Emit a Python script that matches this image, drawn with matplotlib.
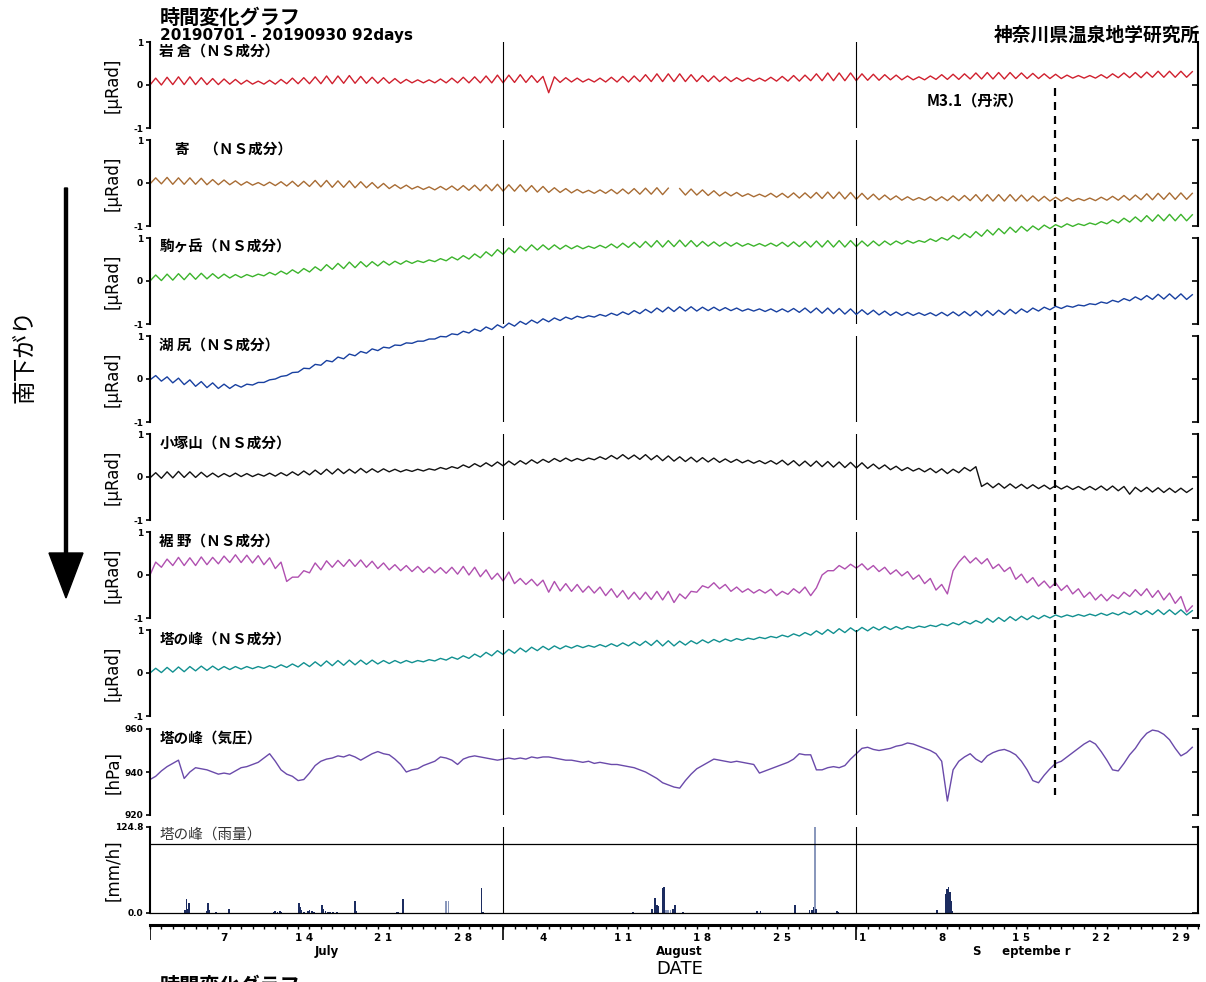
import matplotlib

matplotlib.use("Agg")

import matplotlib.pyplot as plt
import numpy as np
from matplotlib import transforms
from matplotlib.lines import Line2D
from matplotlib.patches import FancyArrow

plt.rcParams["font.family"] = ["Noto Sans CJK JP", "DejaVu Sans"]

# ---- data ------------------------------------------------------------------
# day 0 = 2019-07-01; tilt series hold two samples a day (trough, crest)
# in hundredths of a microradian
iwakura = [
    0, 16, 0, 18, 1, 19, 1, 19, 1, 17, 1, 15, 1, 14, 2, 13, 2, 11, 2, 9,
    2, 11, 2, 13, 3, 16, 3, 17, 3, 19, 3, 21, 3, 21, 4, 22, 4, 20, 4, 18,
    4, 17, 4, 15, 4, 13, 5, 12, 5, 12, 5, 14, 5, 16, 5, 18, 5, 19, 5, 21,
    5, 23, 5, 23, 6, 24, 6, 22, 6, 20, -18, 19, 6, 17, 7, 16, 7, 14, 7, 16,
    7, 18, 7, 20, 7, 21, 8, 24, 8, 26, 8, 26, 8, 26, 8, 24, 8, 22, 8, 21,
    8, 19, 8, 17, 9, 16, 9, 16, 9, 18, 9, 20, 9, 22, 9, 23, 10, 26, 10, 28,
    10, 28, 10, 28, 10, 26, 11, 25, 11, 24, 12, 23, 12, 21, 12, 19, 12, 21, 13, 24,
    13, 25, 13, 26, 14, 28, 14, 29, 14, 29, 14, 29, 15, 28, 15, 27, 15, 26, 15, 25,
    15, 23, 16, 22, 16, 22, 16, 24, 16, 26, 17, 28, 17, 29, 17, 30, 18, 32, 18, 32,
    18, 32, 18, 31,
]
yoriki = [
    -2, 12, -2, 13, -3, 12, -3, 12, -3, 11, -4, 8, -4, 7, -4, 5, -5, 3, -5, 1,
    -6, 2, -6, 3, -7, 4, -8, 4, -8, 6, -9, 6, -10, 5, -10, 5, -11, 3, -11, 1,
    -12, -1, -13, -4, -13, -5, -14, -8, -15, -9, -16, -8, -16, -7, -17, -6, -17, -5, -18, -4,
    -18, -3, -19, -4, -19, -4, -20, -6, -21, -8, -22, -11, -22, -13, -23, -15, -23, -17, -24, -16,
    -24, -15, -25, -14, -25, -13, -26, -12, -26, -11, -27, -12, np.nan, -13, -28, -14, -28, -16, -29, -18,
    -30, -21, -30, -22, -31, -25, -32, -26, -32, -24, -33, -24, -34, -23, -35, -23, -35, -22, -36, -21,
    -36, -21, -37, -22, -38, -24, -38, -26, -39, -28, -39, -30, -40, -32, -40, -34, -40, -32, -41, -32,
    -41, -30, -41, -29, -41, -27, -42, -27, -42, -27, -42, -27, -42, -28, -42, -30, -42, -31, -42, -33,
    -42, -34, -42, -36, -41, -35, -41, -33, -40, -31, -40, -29, -40, -28, -39, -25, -39, -24, -38, -23,
    -38, -23, -38, -24,
]
komagatake = [
    0, 14, 1, 16, 2, 17, 3, 18, 4, 18, 5, 17, 6, 16, 7, 15, 8, 15, 10, 16,
    12, 20, 14, 23, 16, 26, 18, 29, 21, 33, 24, 38, 27, 41, 29, 44, 31, 45, 33, 45,
    35, 46, 37, 46, 39, 47, 41, 47, 43, 49, 45, 52, 47, 56, 49, 59, 51, 63, 54, 68,
    58, 73, 62, 77, 66, 81, 70, 84, 72, 84, 73, 84, 74, 83, 75, 82, 75, 81, 76, 83,
    77, 86, 77, 88, 78, 90, 78, 92, 79, 94, 79, 94, 80, 95, 80, 94, 80, 92, 81, 91,
    81, 90, 81, 89, 81, 87, 81, 87, 81, 88, 81, 90, 80, 91, 80, 92, 79, 93, 79, 94,
    79, 94, 79, 94, 80, 93, 81, 93, 82, 93, 84, 93, 86, 94, 88, 94, 90, 98, 92, 101,
    95, 106, 98, 110, 101, 115, 104, 119, 107, 122, 110, 125, 113, 127, 116, 128, 119, 130, 122, 131,
    125, 133, 127, 133, 129, 135, 131, 138, 133, 142, 135, 146, 137, 149, 138, 152, 139, 154, 140, 155,
    140, 155, 140, 154,
]
kojiri = [
    -2, 8, -5, 5, -9, 2, -13, -2, -17, -6, -20, -9, -22, -12, -22, -13, -19, -12, -14, -8,
    -8, -2, 0, 6, 8, 15, 16, 25, 24, 34, 32, 43, 40, 51, 47, 58, 54, 64, 60, 70,
    66, 74, 72, 79, 78, 84, 83, 88, 88, 93, 93, 99, 98, 105, 103, 111, 107, 116, 111, 121,
    115, 126, 119, 130, 123, 134, 127, 137, 130, 140, 133, 142, 136, 144, 139, 146, 142, 147, 144, 150,
    146, 153, 148, 156, 150, 159, 152, 162, 154, 165, 156, 167, 157, 168, 158, 168, 158, 167, 159, 167,
    159, 166, 159, 165, 158, 163, 158, 163, 157, 163, 156, 163, 156, 164, 155, 165, 154, 165, 153, 165,
    152, 164, 151, 163, 150, 161, 150, 160, 149, 158, 148, 156, 148, 155, 148, 154, 148, 154, 147, 155,
    147, 156, 147, 157, 147, 158, 147, 159, 148, 160, 150, 162, 152, 163, 155, 165, 158, 167, 161, 169,
    164, 170, 167, 172, 170, 175, 173, 179, 176, 183, 179, 187, 182, 191, 184, 194, 185, 197, 186, 198,
    186, 198, 185, 196,
]
kozukayama = [
    -2, 10, -3, 12, -2, 13, -1, 12, -1, 11, 0, 9, 0, 8, 1, 9, 1, 8, 1, 7,
    2, 9, 2, 10, 3, 12, 4, 14, 5, 16, 6, 18, 7, 19, 8, 18, 9, 20, 10, 19,
    11, 19, 12, 18, 12, 17, 13, 18, 14, 19, 16, 22, 18, 24, 20, 28, 22, 31, 24, 33,
    25, 35, 26, 37, 28, 38, 30, 40, 32, 41, 34, 43, 36, 44, 37, 43, 38, 44, 40, 47,
    41, 50, 42, 52, 42, 51, 41, 52, 40, 50, 38, 49, 37, 47, 36, 46, 35, 45, 35, 44,
    34, 42, 34, 41, 33, 39, 32, 38, 31, 38, 30, 39, 28, 38, 26, 37, 25, 37, 24, 36,
    23, 35, 22, 34, 21, 33, 20, 30, 19, 28, 17, 25, 15, 22, 14, 20, 12, 20, 10, 19,
    8, 18, 10, 22, 14, 24, -22, -14, -25, -15, -26, -16, -26, -17, -27, -18, -27, -19, -28, -20,
    -28, -21, -29, -22, -30, -22, -30, -21, -31, -21, -32, -22, -40, -24, -34, -24, -35, -25, -36, -26,
    -36, -26, -36, -27,
]
susono = [
    0, 30, 18, 37, 22, 41, 22, 40, 22, 42, 24, 41, 26, 44, 29, 47, 29, 46, 28, 45,
    24, 40, 15, 30, -15, -5, -5, 10, 5, 28, 12, 33, 18, 34, 20, 36, 20, 35, 18, 32,
    15, 28, 12, 24, 10, 22, 8, 20, 6, 18, 5, 17, 4, 18, 2, 20, 0, 18, -4, 12,
    -10, 4, -14, 7, -20, -8, -22, -10, -25, -12, -40, -15, -37, -20, -38, -22, -40, -26, -42, -28,
    -48, -32, -52, -36, -56, -40, -57, -40, -57, -38, -58, -38, -64, -44, -55, -38, -40, -25, -30, -18,
    -32, -22, -38, -28, -40, -32, -42, -34, -42, -33, -48, -38, -45, -32, -42, -28, -48, -30, 0, 10,
    10, 22, 14, 25, 16, 26, 12, 22, 8, 18, 2, 12, -2, 8, -10, 0, -20, -8, -35, -22,
    -44, 10, 30, 44, 28, 40, 26, 38, 15, 25, 8, 18, -10, 2, -18, -6, -26, -14, -30, -18,
    -36, -24, -44, -32, -52, -40, -58, -45, -60, -46, -55, -40, -50, -34, -48, -32, -52, -36, -58, -42,
    -66, -50, -86, -72,
]
tonomine = [
    0, 11, 1, 13, 2, 14, 3, 15, 5, 16, 6, 16, 7, 15, 8, 15, 9, 15, 10, 15,
    11, 17, 12, 19, 13, 21, 14, 24, 15, 26, 16, 28, 17, 29, 18, 30, 19, 30, 20, 30,
    21, 29, 22, 29, 23, 29, 24, 29, 26, 31, 28, 34, 30, 37, 32, 40, 34, 44, 37, 48,
    40, 52, 43, 55, 46, 58, 49, 60, 52, 62, 54, 63, 56, 63, 58, 64, 59, 64, 60, 66,
    61, 68, 62, 70, 63, 72, 64, 74, 64, 76, 63, 75, 63, 74, 65, 75, 68, 77, 70, 78,
    72, 79, 74, 80, 76, 81, 78, 83, 80, 85, 82, 88, 84, 91, 86, 94, 88, 98, 90, 101,
    92, 103, 94, 105, 96, 106, 98, 107, 100, 108, 101, 108, 102, 108, 104, 109, 106, 111, 108, 114,
    110, 117, 112, 120, 114, 122, 116, 127, 118, 129, 120, 131, 122, 132, 124, 133, 126, 134, 128, 135,
    130, 135, 131, 136, 132, 137, 133, 139, 134, 140, 135, 142, 136, 144, 136, 145, 136, 147, 136, 147,
    136, 147, 135, 145,
]
# 塔の峰 pressure, hPa, two samples a day
pressure = [
    936.5, 938, 940.5, 942.5, 944, 945.5, 937, 940, 942, 941.5,
    941, 940, 939, 939.5, 939, 940.5, 942, 942.5, 943.5, 944.5,
    946.5, 948.5, 945, 941, 939, 938, 936, 936.5, 939.5, 943,
    945, 946, 946.5, 947.5, 947, 948, 947, 945.5, 947, 948.5,
    949.5, 948.5, 948, 946, 943.5, 940, 941, 941.5, 943, 944,
    945, 947, 946.5, 945.5, 943.5, 946, 947, 947.5, 947, 946.5,
    946, 945.5, 946, 946.5, 946, 946.5, 946, 947, 946.5, 947,
    947, 946.5, 946, 945.5, 945.5, 945, 944.5, 945, 944, 944.5,
    944, 943.5, 943.5, 943, 942.5, 942, 941, 940, 938.5, 937,
    935, 934, 933, 932.5, 936, 939, 941.5, 943, 944.5, 946,
    945.5, 945, 944.5, 945, 944.5, 944, 943.5, 939.5, 940.5, 941.5,
    942.5, 943.5, 944.5, 946, 948.5, 948, 948, 941, 941, 942,
    942.5, 942, 943, 946, 948.5, 951, 951.5, 950.5, 950, 950.5,
    951, 952, 952.5, 953.5, 953, 952, 951, 950, 948.5, 945,
    926.5, 941, 945, 947, 948.5, 946, 944.5, 947.5, 949, 950,
    950.5, 949.5, 948, 945, 941, 936, 935, 938.5, 941.5, 944,
    945, 947, 949, 951, 953, 954.5, 953, 949.5, 945.5, 941,
    940.5, 944, 948, 951, 955, 958, 959.5, 959, 957.5, 955,
    951, 947.5, 949, 951.5,
]
# 塔の峰 rainfall, mm/h
rain_day = [3.1, 3.2, 3.3, 3.4, 5.0, 5.1, 5.2, 5.8, 6.9, 10.9, 11.0, 11.2, 11.4,
            11.5, 13.1, 13.2, 13.3, 13.5, 13.9, 14.0, 14.2, 14.4, 15.1, 15.2, 15.4,
            15.6, 15.8, 16.1, 16.4, 18.0, 18.1, 21.7, 21.8, 22.2, 26.0, 26.2, 29.1,
            29.2, 42.4, 44.1, 44.3, 44.4, 44.5, 44.6, 45.0, 45.1, 45.3, 45.5, 45.7,
            45.9, 46.1, 46.8, 53.3, 53.6, 56.6, 57.9, 58.1, 58.3, 58.4, 58.5, 60.3,
            60.4, 69.1, 69.9, 70.0, 70.1, 70.2, 70.3, 70.4]
rain_mm = [4, 20, 6, 14, 3, 14, 4, 1.5, 6, 2, 3, 2, 3,
           2, 14, 8, 4, 2, 3, 4, 3, 2, 12, 6, 3,
           2, 2, 2, 1.5, 18, 3, 2, 2, 21, 17, 17, 36,
           2, 1.5, 6, 22, 8, 12, 10, 37, 38, 5, 5, 4,
           6, 11, 1.5, 3, 3, 12, 4, 5, 8, 160, 6, 3,
           2, 5, 28, 35, 38, 30, 18, 3]
rain_light_days = [26.0, 26.2, 45.3, 45.5, 45.7, 58.4]

month_starts = [31, 62]
label_days = [6, 13, 20, 27, 34, 41, 48, 55, 62, 69, 76, 83, 90]
label_text = ["7", "1 4", "2 1", "2 8", "4", "1 1", "1 8", "2 5", "1", "8", "1 5", "2 2", "2 9"]
month_mid = [15.5, 46.5, 76.5]
month_names = ["July", "August", "S     eptembe r"]
quake_day = 79.45

tilt_panels = [
    ("岩 倉（ＮＳ成分）", iwakura, "#d0202e"),
    ("寄　（ＮＳ成分）", yoriki, "#a86c34"),
    ("駒ヶ岳（ＮＳ成分）", komagatake, "#3cb42c"),
    ("湖 尻（ＮＳ成分）", kojiri, "#1840a0"),
    ("小塚山（ＮＳ成分）", kozukayama, "#111111"),
    ("裾 野（ＮＳ成分）", susono, "#b050b0"),
    ("塔の峰（ＮＳ成分）", tonomine, "#119090"),
]

# ---- layout (pixel frame of the 1206x982 picture) --------------------------
W, H = 1206, 982
LEFT, RIGHT = 150, 1198
tops = [42, 140, 238, 336, 434, 532, 630, 729, 827]
PH = 86
LATIN = ["DejaVu Sans"]


def frame(top, height):
    return [LEFT / W, 1 - (top + height) / H, (RIGHT - LEFT) / W, height / H]


def style(ax, ticks, ticklabels):
    ax.set_xlim(0, 92)
    ax.set_xticks([])
    ax.patch.set_alpha(0)
    for s in ("top", "bottom", "right"):
        ax.spines[s].set_visible(False)
    ax.spines["left"].set_linewidth(1.5)
    ax.set_yticks(ticks)
    ax.set_yticklabels(ticklabels, family=LATIN, fontweight="bold", fontsize=6.5)
    ax.tick_params(axis="y", direction="out", length=3, width=1.2, pad=2)
    sec = ax.secondary_yaxis("right")
    sec.set_yticks(ticks)
    sec.tick_params(axis="y", direction="in", length=4, width=1.2, labelright=False)
    sec.spines["right"].set_linewidth(1.5)
    for m in month_starts:
        ax.axvline(m, color="k", lw=0.8)


fig = plt.figure(figsize=(W / 100, H / 100), dpi=100)

ov = fig.add_axes([0, 0, 1, 1])
ov.set_xlim(0, W)
ov.set_ylim(H, 0)
ov.axis("off")

axes = []
for (label, vals, color), top in zip(tilt_panels, tops):
    ax = fig.add_axes(frame(top, PH))
    t = np.arange(len(vals)) / 2
    ax.plot(t, np.array(vals, dtype=float) / 100, color=color, lw=1.0, clip_on=False)
    ax.set_ylim(-1, 1)
    style(ax, [-1, 0, 1], ["-1", "0", "1"])
    x0 = 0.024 if label.startswith("寄") else 0.009
    ax.text(x0, 0.99, label, transform=ax.transAxes, va="top", ha="left",
            fontsize=10.5, fontweight="bold")
    ov.text(113, top + PH / 2, "[μRad]", rotation=90, ha="center", va="center",
            fontsize=12, family=LATIN)
    axes.append(ax)

# pressure
axp = fig.add_axes(frame(tops[7], PH))
tp = np.arange(len(pressure)) / 2
axp.plot(tp, pressure, color="#6a4aaa", lw=1.0, clip_on=False)
axp.set_ylim(920, 960)
style(axp, [920, 940, 960], ["920", "940", "960"])
axp.text(0.009, 0.99, "塔の峰（気圧）", transform=axp.transAxes, va="top", ha="left",
         fontsize=10.5, fontweight="bold")
ov.text(113, tops[7] + PH / 2, "[hPa]", rotation=90, ha="center", va="center",
        fontsize=12, family=LATIN)

# rainfall
axr = fig.add_axes(frame(tops[8], PH))
rain_colors = ["#8a98bc" if d in rain_light_days else "#1c2c60" for d in rain_day]
axr.bar(rain_day, rain_mm, width=0.16, color=rain_colors, linewidth=0)
axr.set_ylim(0, 124.8)
style(axr, [0, 124.8], ["0.0", "124.8"])
axr.spines["bottom"].set_visible(True)
axr.spines["bottom"].set_linewidth(0.9)
axr.axhline(100, color="k", lw=0.9)
axr.text(0.009, 0.99, "塔の峰（雨量）", transform=axr.transAxes, va="top", ha="left",
         fontsize=10.5, color="#333333")
ov.text(113, tops[8] + PH / 2, "[mm/h]", rotation=90, ha="center", va="center",
        fontsize=12, family=LATIN)

# date axis
axd = fig.add_axes(frame(925, 15))
axd.set_xlim(0, 92)
axd.set_ylim(0, 1)
axd.patch.set_alpha(0)
for s in ("left", "right", "bottom"):
    axd.spines[s].set_visible(False)
axd.spines["top"].set_linewidth(2.2)
axd.set_yticks([])
axd.set_xticks([])
axd.set_xticks(np.arange(0, 93), minor=True)
axd.xaxis.set_ticks_position("top")
axd.tick_params(axis="x", which="minor", direction="in", length=3, width=1.0,
                top=True, bottom=False, labeltop=False)
for m in [0] + month_starts:
    axd.axvline(m, color="k", lw=1.2)
for d, s in zip(label_days, label_text):
    axd.text(d + 0.5, 0.13, s, ha="center", va="center", fontsize=7.5,
             fontweight="bold", family=LATIN)
for d, s in zip(month_mid, month_names):
    axd.text(d, -0.8, s, ha="center", va="center", fontsize=8.5,
             fontweight="bold", family=LATIN)
axd.text(46.5, -1.95, "DATE", ha="center", va="center", fontsize=13, family=LATIN)

# earthquake marker across the panels
blend = transforms.blended_transform_factory(axes[0].transData, fig.transFigure)
fig.add_artist(Line2D([quake_day, quake_day], [1 - 88 / H, 1 - 795 / H],
                      transform=blend, color="k", lw=1.6, linestyle=(0, (3.6, 2.7))))
axes[0].text(68.2, -0.36, "M3.1（丹沢）", ha="left", va="center",
             fontsize=11, fontweight="bold")

# titles and side annotation
ov.text(160, 17, "時間変化グラフ", ha="left", va="center", fontsize=14.5, fontweight="bold")
ov.text(160, 35, "20190701 - 20190930 92days", ha="left", va="center",
        fontsize=11, fontweight="bold", family=LATIN)
ov.text(1200, 35, "神奈川県温泉地学研究所", ha="right", va="center",
        fontsize=13.5, fontweight="bold")
# the reference repeats the title at the very bottom, cut by the picture edge
ov.text(160, 992, "時間変化グラフ", ha="left", va="baseline", fontsize=14.5, fontweight="bold")
ov.add_patch(FancyArrow(66, 188, 0, 410, width=3, head_width=34, head_length=45,
                        length_includes_head=True, color="k"))
ov.text(25, 356, "南下がり", rotation=90, ha="center", va="center", fontsize=17)

fig.savefig("out.png", dpi=100)
